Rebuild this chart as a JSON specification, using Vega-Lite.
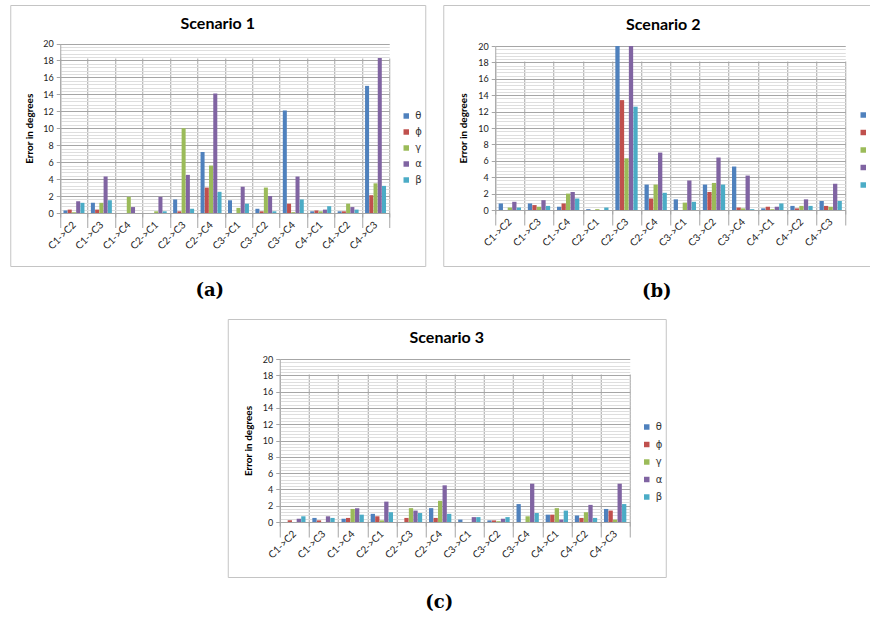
{
"$schema": "https://vega.github.io/schema/vega-lite/v6.json",
"padding": {"left": 6, "top": 4, "right": -12, "bottom": 0},
"background": "white",
"config": {"view": {"stroke": "#c4c4c4", "strokeWidth": 1, "fill": "white"}},
"data": {"values": [
{"s":1,"c":"C1->C2","k":"θ","v":0.3},{"s":1,"c":"C1->C2","k":"ϕ","v":0.4},{"s":1,"c":"C1->C2","k":"γ","v":0.1},{"s":1,"c":"C1->C2","k":"α","v":1.4},{"s":1,"c":"C1->C2","k":"β","v":1.2},
{"s":1,"c":"C1->C3","k":"θ","v":1.2},{"s":1,"c":"C1->C3","k":"ϕ","v":0.4},{"s":1,"c":"C1->C3","k":"γ","v":1.2},{"s":1,"c":"C1->C3","k":"α","v":4.3},{"s":1,"c":"C1->C3","k":"β","v":1.5},
{"s":1,"c":"C1->C4","k":"θ","v":0},{"s":1,"c":"C1->C4","k":"ϕ","v":0},{"s":1,"c":"C1->C4","k":"γ","v":1.9},{"s":1,"c":"C1->C4","k":"α","v":0.7},{"s":1,"c":"C1->C4","k":"β","v":0},
{"s":1,"c":"C2->C1","k":"θ","v":0},{"s":1,"c":"C2->C1","k":"ϕ","v":0},{"s":1,"c":"C2->C1","k":"γ","v":0.2},{"s":1,"c":"C2->C1","k":"α","v":1.9},{"s":1,"c":"C2->C1","k":"β","v":0.2},
{"s":1,"c":"C2->C3","k":"θ","v":1.6},{"s":1,"c":"C2->C3","k":"ϕ","v":0.2},{"s":1,"c":"C2->C3","k":"γ","v":10},{"s":1,"c":"C2->C3","k":"α","v":4.5},{"s":1,"c":"C2->C3","k":"β","v":0.5},
{"s":1,"c":"C2->C4","k":"θ","v":7.2},{"s":1,"c":"C2->C4","k":"ϕ","v":3},{"s":1,"c":"C2->C4","k":"γ","v":5.6},{"s":1,"c":"C2->C4","k":"α","v":14.1},{"s":1,"c":"C2->C4","k":"β","v":2.5},
{"s":1,"c":"C3->C1","k":"θ","v":1.5},{"s":1,"c":"C3->C1","k":"ϕ","v":0},{"s":1,"c":"C3->C1","k":"γ","v":0.6},{"s":1,"c":"C3->C1","k":"α","v":3.1},{"s":1,"c":"C3->C1","k":"β","v":1.1},
{"s":1,"c":"C3->C2","k":"θ","v":0.5},{"s":1,"c":"C3->C2","k":"ϕ","v":0.2},{"s":1,"c":"C3->C2","k":"γ","v":3},{"s":1,"c":"C3->C2","k":"α","v":2},{"s":1,"c":"C3->C2","k":"β","v":0.2},
{"s":1,"c":"C3->C4","k":"θ","v":12.1},{"s":1,"c":"C3->C4","k":"ϕ","v":1.1},{"s":1,"c":"C3->C4","k":"γ","v":0.1},{"s":1,"c":"C3->C4","k":"α","v":4.3},{"s":1,"c":"C3->C4","k":"β","v":1.6},
{"s":1,"c":"C4->C1","k":"θ","v":0.2},{"s":1,"c":"C4->C1","k":"ϕ","v":0.3},{"s":1,"c":"C4->C1","k":"γ","v":0.2},{"s":1,"c":"C4->C1","k":"α","v":0.4},{"s":1,"c":"C4->C1","k":"β","v":0.8},
{"s":1,"c":"C4->C2","k":"θ","v":0.2},{"s":1,"c":"C4->C2","k":"ϕ","v":0.2},{"s":1,"c":"C4->C2","k":"γ","v":1.1},{"s":1,"c":"C4->C2","k":"α","v":0.7},{"s":1,"c":"C4->C2","k":"β","v":0.4},
{"s":1,"c":"C4->C3","k":"θ","v":15},{"s":1,"c":"C4->C3","k":"ϕ","v":2.1},{"s":1,"c":"C4->C3","k":"γ","v":3.5},{"s":1,"c":"C4->C3","k":"α","v":18.3},{"s":1,"c":"C4->C3","k":"β","v":3.2},
{"s":2,"c":"C1->C2","k":"θ","v":0.8},{"s":2,"c":"C1->C2","k":"ϕ","v":0},{"s":2,"c":"C1->C2","k":"γ","v":0.3},{"s":2,"c":"C1->C2","k":"α","v":1},{"s":2,"c":"C1->C2","k":"β","v":0.3},
{"s":2,"c":"C1->C3","k":"θ","v":0.8},{"s":2,"c":"C1->C3","k":"ϕ","v":0.6},{"s":2,"c":"C1->C3","k":"γ","v":0.4},{"s":2,"c":"C1->C3","k":"α","v":1.2},{"s":2,"c":"C1->C3","k":"β","v":0.5},
{"s":2,"c":"C1->C4","k":"θ","v":0.4},{"s":2,"c":"C1->C4","k":"ϕ","v":0.8},{"s":2,"c":"C1->C4","k":"γ","v":2},{"s":2,"c":"C1->C4","k":"α","v":2.2},{"s":2,"c":"C1->C4","k":"β","v":1.4},
{"s":2,"c":"C2->C1","k":"θ","v":0.1},{"s":2,"c":"C2->C1","k":"ϕ","v":0},{"s":2,"c":"C2->C1","k":"γ","v":0.1},{"s":2,"c":"C2->C1","k":"α","v":0},{"s":2,"c":"C2->C1","k":"β","v":0.3},
{"s":2,"c":"C2->C3","k":"θ","v":20},{"s":2,"c":"C2->C3","k":"ϕ","v":13.4},{"s":2,"c":"C2->C3","k":"γ","v":6.3},{"s":2,"c":"C2->C3","k":"α","v":20},{"s":2,"c":"C2->C3","k":"β","v":12.6},
{"s":2,"c":"C2->C4","k":"θ","v":3.1},{"s":2,"c":"C2->C4","k":"ϕ","v":1.4},{"s":2,"c":"C2->C4","k":"γ","v":3.1},{"s":2,"c":"C2->C4","k":"α","v":7},{"s":2,"c":"C2->C4","k":"β","v":2.1},
{"s":2,"c":"C3->C1","k":"θ","v":1.3},{"s":2,"c":"C3->C1","k":"ϕ","v":0},{"s":2,"c":"C3->C1","k":"γ","v":0.9},{"s":2,"c":"C3->C1","k":"α","v":3.6},{"s":2,"c":"C3->C1","k":"β","v":1},
{"s":2,"c":"C3->C2","k":"θ","v":3.1},{"s":2,"c":"C3->C2","k":"ϕ","v":2.2},{"s":2,"c":"C3->C2","k":"γ","v":3.3},{"s":2,"c":"C3->C2","k":"α","v":6.4},{"s":2,"c":"C3->C2","k":"β","v":3.1},
{"s":2,"c":"C3->C4","k":"θ","v":5.3},{"s":2,"c":"C3->C4","k":"ϕ","v":0.3},{"s":2,"c":"C3->C4","k":"γ","v":0.2},{"s":2,"c":"C3->C4","k":"α","v":4.2},{"s":2,"c":"C3->C4","k":"β","v":0.1},
{"s":2,"c":"C4->C1","k":"θ","v":0.2},{"s":2,"c":"C4->C1","k":"ϕ","v":0.4},{"s":2,"c":"C4->C1","k":"γ","v":0.1},{"s":2,"c":"C4->C1","k":"α","v":0.4},{"s":2,"c":"C4->C1","k":"β","v":0.8},
{"s":2,"c":"C4->C2","k":"θ","v":0.5},{"s":2,"c":"C4->C2","k":"ϕ","v":0.2},{"s":2,"c":"C4->C2","k":"γ","v":0.5},{"s":2,"c":"C4->C2","k":"α","v":1.3},{"s":2,"c":"C4->C2","k":"β","v":0.5},
{"s":2,"c":"C4->C3","k":"θ","v":1.1},{"s":2,"c":"C4->C3","k":"ϕ","v":0.5},{"s":2,"c":"C4->C3","k":"γ","v":0.4},{"s":2,"c":"C4->C3","k":"α","v":3.2},{"s":2,"c":"C4->C3","k":"β","v":1.1},
{"s":3,"c":"C1->C2","k":"θ","v":0},{"s":3,"c":"C1->C2","k":"ϕ","v":0.2},{"s":3,"c":"C1->C2","k":"γ","v":0},{"s":3,"c":"C1->C2","k":"α","v":0.4},{"s":3,"c":"C1->C2","k":"β","v":0.7},
{"s":3,"c":"C1->C3","k":"θ","v":0.5},{"s":3,"c":"C1->C3","k":"ϕ","v":0.2},{"s":3,"c":"C1->C3","k":"γ","v":0},{"s":3,"c":"C1->C3","k":"α","v":0.7},{"s":3,"c":"C1->C3","k":"β","v":0.5},
{"s":3,"c":"C1->C4","k":"θ","v":0.4},{"s":3,"c":"C1->C4","k":"ϕ","v":0.5},{"s":3,"c":"C1->C4","k":"γ","v":1.6},{"s":3,"c":"C1->C4","k":"α","v":1.7},{"s":3,"c":"C1->C4","k":"β","v":0.9},
{"s":3,"c":"C2->C1","k":"θ","v":1},{"s":3,"c":"C2->C1","k":"ϕ","v":0.7},{"s":3,"c":"C2->C1","k":"γ","v":0.2},{"s":3,"c":"C2->C1","k":"α","v":2.5},{"s":3,"c":"C2->C1","k":"β","v":1.2},
{"s":3,"c":"C2->C3","k":"θ","v":0},{"s":3,"c":"C2->C3","k":"ϕ","v":0.5},{"s":3,"c":"C2->C3","k":"γ","v":1.7},{"s":3,"c":"C2->C3","k":"α","v":1.4},{"s":3,"c":"C2->C3","k":"β","v":1.1},
{"s":3,"c":"C2->C4","k":"θ","v":1.7},{"s":3,"c":"C2->C4","k":"ϕ","v":0.5},{"s":3,"c":"C2->C4","k":"γ","v":2.6},{"s":3,"c":"C2->C4","k":"α","v":4.5},{"s":3,"c":"C2->C4","k":"β","v":1},
{"s":3,"c":"C3->C1","k":"θ","v":0.3},{"s":3,"c":"C3->C1","k":"ϕ","v":0},{"s":3,"c":"C3->C1","k":"γ","v":0},{"s":3,"c":"C3->C1","k":"α","v":0.6},{"s":3,"c":"C3->C1","k":"β","v":0.6},
{"s":3,"c":"C3->C2","k":"θ","v":0.2},{"s":3,"c":"C3->C2","k":"ϕ","v":0.2},{"s":3,"c":"C3->C2","k":"γ","v":0.1},{"s":3,"c":"C3->C2","k":"α","v":0.4},{"s":3,"c":"C3->C2","k":"β","v":0.6},
{"s":3,"c":"C3->C4","k":"θ","v":2.2},{"s":3,"c":"C3->C4","k":"ϕ","v":0},{"s":3,"c":"C3->C4","k":"γ","v":0.7},{"s":3,"c":"C3->C4","k":"α","v":4.7},{"s":3,"c":"C3->C4","k":"β","v":1.1},
{"s":3,"c":"C4->C1","k":"θ","v":0.9},{"s":3,"c":"C4->C1","k":"ϕ","v":0.9},{"s":3,"c":"C4->C1","k":"γ","v":1.7},{"s":3,"c":"C4->C1","k":"α","v":0.3},{"s":3,"c":"C4->C1","k":"β","v":1.4},
{"s":3,"c":"C4->C2","k":"θ","v":0.8},{"s":3,"c":"C4->C2","k":"ϕ","v":0.5},{"s":3,"c":"C4->C2","k":"γ","v":1.2},{"s":3,"c":"C4->C2","k":"α","v":2.1},{"s":3,"c":"C4->C2","k":"β","v":0.5},
{"s":3,"c":"C4->C3","k":"θ","v":1.6},{"s":3,"c":"C4->C3","k":"ϕ","v":1.4},{"s":3,"c":"C4->C3","k":"γ","v":0.3},{"s":3,"c":"C4->C3","k":"α","v":4.7},{"s":3,"c":"C4->C3","k":"β","v":2.2}
]},
"resolve": {"scale": {"color": "independent", "xOffset": "independent"}, "legend": {"color": "independent"}},
"center": true,
"spacing": 17,
"vconcat": [
{
"hconcat": [
{
"width": 415, "height": 261,
"title": {"text": "Scenario 1", "font": "Lato", "fontSize": 16, "fontWeight": "bold", "color": "#000", "anchor": "middle", "baseline": "alphabetic", "offset": -40},
"transform": [{"filter": "datum.s === 1"}],
"mark": {"type": "bar"},
"encoding": {
"x": {"field": "c", "type": "nominal", "sort": ["C1->C2","C1->C3","C1->C4","C2->C1","C2->C3","C2->C4","C3->C1","C3->C2","C3->C4","C4->C1","C4->C2","C4->C3"], "scale": {"range": [50, 379], "paddingInner": 0, "paddingOuter": 0},
 "axis": {"orient": "bottom", "offset": -53, "tickBand": "extent", "grid": true, "gridColor": "#a6a6a6", "ticks": true, "tickSize": 4, "tickColor": "#a6a6a6", "domainColor": "#a6a6a6", "labelAngle": -45, "labelAlign": "right", "labelBaseline": "middle", "labelPadding": 6, "labelFont": "Lato", "labelFontSize": 10, "labelColor": "#222", "title": "(a)", "titleFont": "DejaVu Serif", "titleFontSize": 18, "titleFontWeight": "bold", "titleColor": "#000", "titleX": 199, "titleY": 82, "titleBaseline": "alphabetic"}},
"xOffset": {"field": "k", "type": "nominal", "sort": ["θ","ϕ","γ","α","β"], "scale": {"paddingInner": 0.05, "paddingOuter": 0.76}},
"y": {"field": "v", "type": "quantitative", "scale": {"domain": [0, 20], "range": [208, 38.5], "nice": false},
 "axis": {"orient": "left", "offset": -50, "values": [0,0.4,0.8,1.2,1.6,2,2.4,2.8,3.2,3.6,4,4.4,4.8,5.2,5.6,6,6.4,6.8,7.2,7.6,8,8.4,8.8,9.2,9.6,10,10.4,10.8,11.2,11.6,12,12.4,12.8,13.2,13.6,14,14.4,14.8,15.2,15.6,16,16.4,16.8,17.2,17.6,18,18.4,18.8,19.2,19.6,20], "labelExpr": "datum.value % 2 === 0 ? '' + datum.value : ''", "labelOverlap": false, "grid": true, "gridColor": {"condition": {"test": "datum.value % 2 === 0", "value": "#a6a6a6"}, "value": "#dedede"}, "tickSize": 4, "tickColor": {"condition": {"test": "datum.value % 2 === 0", "value": "#a6a6a6"}, "value": "transparent"}, "domainColor": "#a6a6a6", "labelFont": "Lato", "labelFontSize": 9, "labelColor": "#222", "labelPadding": 3, "title": "Error in degrees", "titleFont": "Lato", "titleFontSize": 10, "titleFontWeight": "bold", "titleColor": "#000", "titleX": -31, "titleBaseline": "middle"}},
"color": {"field": "k", "type": "nominal", "sort": ["θ","ϕ","γ","α","β"], "scale": {"domain": ["θ","ϕ","γ","α","β"], "range": ["#4F81BD","#C0504D","#9BBB59","#8064A2","#4BACC6"]},
 "legend": {"orient": "none", "legendX": 391, "legendY": 106, "title": null, "padding": 0, "symbolType": "square", "symbolSize": 30, "symbolStrokeWidth": 0, "labelFont": "DejaVu Sans", "labelFontSize": 10, "labelColor": "#333", "rowPadding": 6, "labelOffset": 4}}
}
},
{
"width": 440, "height": 261,
"title": {"text": "Scenario 2", "font": "Lato", "fontSize": 16, "fontWeight": "bold", "color": "#000", "anchor": "middle", "baseline": "alphabetic", "offset": -41},
"transform": [{"filter": "datum.s === 2"}],
"mark": {"type": "bar"},
"encoding": {
"x": {"field": "c", "type": "nominal", "sort": ["C1->C2","C1->C3","C1->C4","C2->C1","C2->C3","C2->C4","C3->C1","C3->C2","C3->C4","C4->C1","C4->C2","C4->C3"], "scale": {"range": [52, 402], "paddingInner": 0, "paddingOuter": 0},
 "axis": {"orient": "bottom", "offset": -56, "tickBand": "extent", "grid": true, "gridColor": "#a6a6a6", "ticks": true, "tickSize": 4, "tickColor": "#a6a6a6", "domainColor": "#a6a6a6", "labelAngle": -45, "labelAlign": "right", "labelBaseline": "middle", "labelPadding": 6, "labelFont": "Lato", "labelFontSize": 10, "labelColor": "#222", "title": "(b)", "titleFont": "DejaVu Serif", "titleFontSize": 18, "titleFontWeight": "bold", "titleColor": "#000", "titleX": 213, "titleY": 86, "titleBaseline": "alphabetic"}},
"xOffset": {"field": "k", "type": "nominal", "sort": ["θ","ϕ","γ","α","β"], "scale": {"paddingInner": 0.05, "paddingOuter": 0.76}},
"y": {"field": "v", "type": "quantitative", "scale": {"domain": [0, 20], "range": [205, 41], "nice": false},
 "axis": {"orient": "left", "offset": -52, "values": [0,0.4,0.8,1.2,1.6,2,2.4,2.8,3.2,3.6,4,4.4,4.8,5.2,5.6,6,6.4,6.8,7.2,7.6,8,8.4,8.8,9.2,9.6,10,10.4,10.8,11.2,11.6,12,12.4,12.8,13.2,13.6,14,14.4,14.8,15.2,15.6,16,16.4,16.8,17.2,17.6,18,18.4,18.8,19.2,19.6,20], "labelExpr": "datum.value % 2 === 0 ? '' + datum.value : ''", "labelOverlap": false, "grid": true, "gridColor": {"condition": {"test": "datum.value % 2 === 0", "value": "#a6a6a6"}, "value": "#dedede"}, "tickSize": 4, "tickColor": {"condition": {"test": "datum.value % 2 === 0", "value": "#a6a6a6"}, "value": "transparent"}, "domainColor": "#a6a6a6", "labelFont": "Lato", "labelFontSize": 9, "labelColor": "#222", "labelPadding": 3, "title": "Error in degrees", "titleFont": "Lato", "titleFontSize": 10, "titleFontWeight": "bold", "titleColor": "#000", "titleX": -32, "titleBaseline": "middle"}},
"color": {"field": "k", "type": "nominal", "sort": ["θ","ϕ","γ","α","β"], "scale": {"domain": ["θ","ϕ","γ","α","β"], "range": ["#4F81BD","#C0504D","#9BBB59","#8064A2","#4BACC6"]},
 "legend": {"orient": "none", "legendX": 415, "legendY": 105, "title": null, "padding": 0, "symbolType": "square", "symbolSize": 30, "symbolStrokeWidth": 0, "labelFont": "DejaVu Sans", "labelFontSize": 10, "labelColor": "#333", "rowPadding": 7.5, "labelOffset": 4}}
}
}
],
"spacing": 12,
"resolve": {"scale": {"color": "independent", "xOffset": "independent"}, "legend": {"color": "independent"}}
},
{
"width": 438, "height": 258,
"title": {"text": "Scenario 3", "font": "Lato", "fontSize": 16, "fontWeight": "bold", "color": "#000", "anchor": "middle", "baseline": "alphabetic", "offset": -40},
"transform": [{"filter": "datum.s === 3"}],
"mark": {"type": "bar"},
"encoding": {
"x": {"field": "c", "type": "nominal", "sort": ["C1->C2","C1->C3","C1->C4","C2->C1","C2->C3","C2->C4","C3->C1","C3->C2","C3->C4","C4->C1","C4->C2","C4->C3"], "scale": {"range": [52, 402], "paddingInner": 0, "paddingOuter": 0},
 "axis": {"orient": "bottom", "offset": -55, "tickBand": "extent", "grid": true, "gridColor": "#a6a6a6", "ticks": true, "tickSize": 4, "tickColor": "#a6a6a6", "domainColor": "#a6a6a6", "labelAngle": -45, "labelAlign": "right", "labelBaseline": "middle", "labelPadding": 6, "labelFont": "Lato", "labelFontSize": 10, "labelColor": "#222", "title": "(c)", "titleFont": "DejaVu Serif", "titleFontSize": 18, "titleFontWeight": "bold", "titleColor": "#000", "titleX": 211, "titleY": 85, "titleBaseline": "alphabetic"}},
"xOffset": {"field": "k", "type": "nominal", "sort": ["θ","ϕ","γ","α","β"], "scale": {"paddingInner": 0.05, "paddingOuter": 0.76}},
"y": {"field": "v", "type": "quantitative", "scale": {"domain": [0, 20], "range": [203, 40], "nice": false},
 "axis": {"orient": "left", "offset": -52, "values": [0,0.4,0.8,1.2,1.6,2,2.4,2.8,3.2,3.6,4,4.4,4.8,5.2,5.6,6,6.4,6.8,7.2,7.6,8,8.4,8.8,9.2,9.6,10,10.4,10.8,11.2,11.6,12,12.4,12.8,13.2,13.6,14,14.4,14.8,15.2,15.6,16,16.4,16.8,17.2,17.6,18,18.4,18.8,19.2,19.6,20], "labelExpr": "datum.value % 2 === 0 ? '' + datum.value : ''", "labelOverlap": false, "grid": true, "gridColor": {"condition": {"test": "datum.value % 2 === 0", "value": "#a6a6a6"}, "value": "#dedede"}, "tickSize": 4, "tickColor": {"condition": {"test": "datum.value % 2 === 0", "value": "#a6a6a6"}, "value": "transparent"}, "domainColor": "#a6a6a6", "labelFont": "Lato", "labelFontSize": 9, "labelColor": "#222", "labelPadding": 3, "title": "Error in degrees", "titleFont": "Lato", "titleFontSize": 10, "titleFontWeight": "bold", "titleColor": "#000", "titleX": -31, "titleBaseline": "middle"}},
"color": {"field": "k", "type": "nominal", "sort": ["θ","ϕ","γ","α","β"], "scale": {"domain": ["θ","ϕ","γ","α","β"], "range": ["#4F81BD","#C0504D","#9BBB59","#8064A2","#4BACC6"]},
 "legend": {"orient": "none", "legendX": 414, "legendY": 103, "title": null, "padding": 0, "symbolType": "square", "symbolSize": 30, "symbolStrokeWidth": 0, "labelFont": "DejaVu Sans", "labelFontSize": 10, "labelColor": "#333", "rowPadding": 7.5, "labelOffset": 4}}
}
}
]
}
